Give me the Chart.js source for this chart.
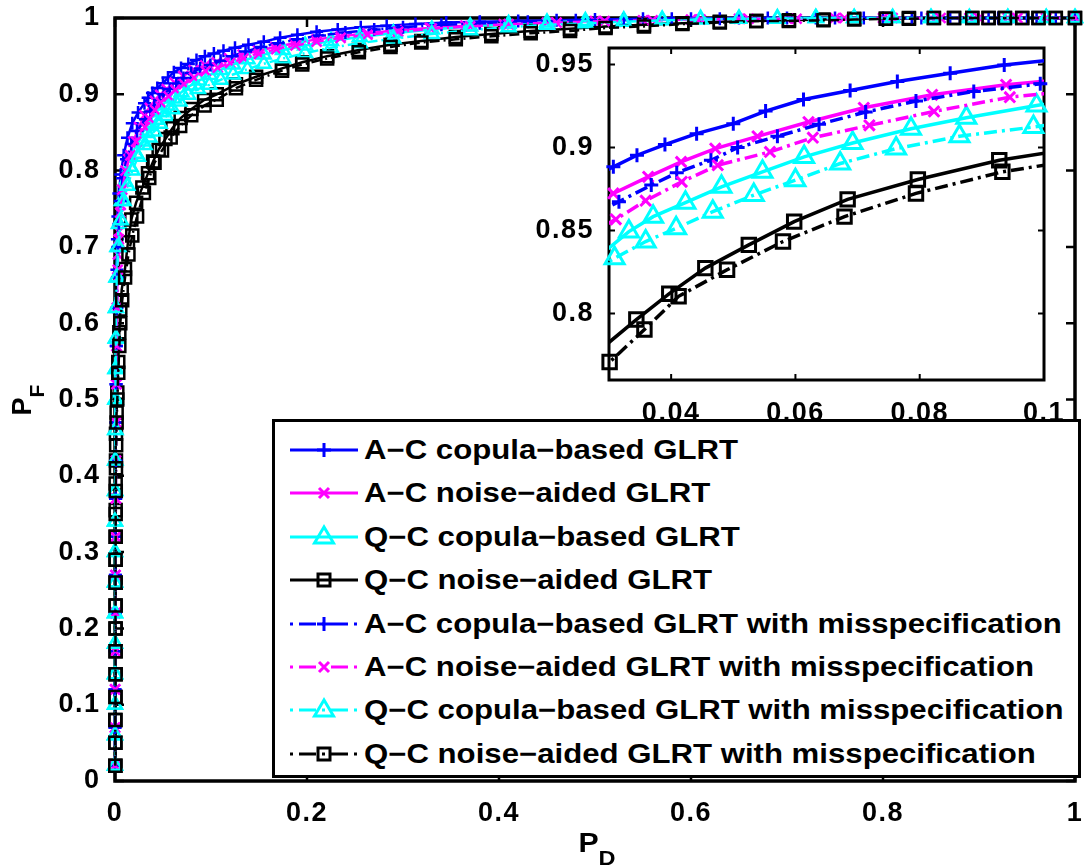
<!DOCTYPE html>
<html>
<head>
<meta charset="utf-8">
<script src="https://cdn.jsdelivr.net/npm/chart.js@4.4.0/dist/chart.umd.min.js"></script>
<style>
html,body{margin:0;padding:0;background:#fff;}
#wrap{position:relative;width:1086px;height:867px;overflow:hidden;background:#fff;font-family:'Liberation Sans',Arial,Helvetica,sans-serif;font-weight:bold;color:#000;}
#main{position:absolute;left:0;top:0;}
#inset{position:absolute;left:520px;top:30px;}
#legend{position:absolute;left:272px;top:419px;width:809px;height:359px;box-sizing:border-box;border:3px solid #000;background:#fff;}
.lrow{position:absolute;left:0;height:40px;white-space:nowrap;}
.lrow svg{position:absolute;left:14px;top:0;}
.lrow span{position:absolute;left:89px;font-size:27px;line-height:40px;top:0;transform:scaleX(1.154);transform-origin:0 50%;}
.title{position:absolute;font-size:27px;line-height:40px;white-space:nowrap;text-align:center;}
.title sub{font-size:21px;vertical-align:-13px;line-height:0;}
</style>
</head>
<body>
<div id="wrap">
  <canvas id="main" width="1086" height="867"></canvas>
  <canvas id="inset" width="560" height="400"></canvas>
  <div id="legend"></div>
  <div class="title" id="xtitle" style="left:557px;top:823px;width:80px;transform:scaleX(1.12);">P<sub>D</sub></div>
  <div class="title" id="ytitle" style="left:-18px;top:380px;width:80px;transform:rotate(-90deg);">P<sub>F</sub></div>
</div>
<script>
// ---------------- data (x = P_D, y = P_F) ----------------
const seriesLabels = [
  'A\u2212C copula\u2212based GLRT',
  'A\u2212C noise\u2212aided GLRT',
  'Q\u2212C copula\u2212based GLRT',
  'Q\u2212C noise\u2212aided GLRT',
  'A\u2212C copula\u2212based GLRT with misspecification',
  'A\u2212C noise\u2212aided GLRT with misspecification',
  'Q\u2212C copula\u2212based GLRT with misspecification',
  'Q\u2212C noise\u2212aided GLRT with misspecification'
];

const acCopula = [[0,0.02],[0,0.07],[0,0.12],[0,0.17],[0.0003,0.22],[0.0003,0.27],[0.0005,0.32],[0.0005,0.37],[0.0008,0.42],[0.001,0.47],[0.001,0.52],[0.0012,0.57],[0.0015,0.62],[0.002,0.67],[0.0025,0.71],[0.003,0.74],[0.004,0.77],[0.006,0.795],[0.009,0.82],[0.013,0.843],[0.018,0.862],[0.024,0.876],[0.0307,0.8884],[0.0345,0.8954],[0.039,0.9018],[0.0441,0.9084],[0.050,0.9144],[0.0552,0.922],[0.0613,0.929],[0.0688,0.9344],[0.0764,0.9398],[0.0849,0.9448],[0.0936,0.9498],[0.103,0.9535],[0.113,0.957],[0.125,0.961],[0.139,0.965],[0.155,0.969],[0.172,0.974],[0.19,0.978],[0.21,0.982],[0.232,0.985],[0.256,0.988],[0.283,0.99],[0.313,0.992],[0.345,0.994],[0.38,0.995],[0.42,0.996],[0.46,0.997],[0.5,0.998],[0.55,0.999],[0.6,0.999],[0.65,1],[0.7,1],[0.75,1],[0.8,1],[0.84,1],[0.88,1],[0.92,1],[0.96,1],[1,1]];

const acNoise = [[0,0.02],[0,0.07],[0,0.12],[0.0003,0.17],[0.0003,0.22],[0.0005,0.27],[0.0005,0.32],[0.0008,0.37],[0.001,0.42],[0.001,0.47],[0.0012,0.52],[0.0015,0.57],[0.002,0.62],[0.0025,0.66],[0.003,0.69],[0.004,0.72],[0.006,0.755],[0.009,0.785],[0.014,0.815],[0.019,0.838],[0.025,0.857],[0.0307,0.8724],[0.0363,0.8824],[0.0416,0.8914],[0.0471,0.8994],[0.0539,0.9068],[0.0621,0.9154],[0.071,0.924],[0.082,0.9318],[0.0939,0.9378],[0.106,0.942],[0.119,0.947],[0.133,0.952],[0.149,0.957],[0.167,0.962],[0.187,0.967],[0.21,0.972],[0.235,0.976],[0.263,0.98],[0.294,0.984],[0.328,0.987],[0.365,0.99],[0.405,0.992],[0.45,0.994],[0.5,0.996],[0.55,0.997],[0.6,0.998],[0.65,0.999],[0.7,0.999],[0.75,1],[0.8,1],[0.85,1],[0.89,1],[0.93,1],[0.97,1],[1,1]];

const qcCopula = [[0,0.02],[0,0.06],[0,0.10],[0,0.14],[0,0.18],[0,0.22],[0,0.26],[0,0.30],[0,0.34],[0,0.38],[0.0003,0.42],[0.0003,0.46],[0.0005,0.50],[0.0005,0.54],[0.0008,0.58],[0.001,0.62],[0.0015,0.66],[0.0025,0.70],[0.004,0.73],[0.007,0.76],[0.011,0.785],[0.016,0.805],[0.022,0.822],[0.0295,0.838],[0.0332,0.8494],[0.0371,0.8584],[0.0423,0.8668],[0.0481,0.8764],[0.0547,0.8854],[0.0614,0.8944],[0.0692,0.9028],[0.0786,0.9114],[0.0875,0.918],[0.0988,0.9254],[0.11,0.932],[0.123,0.939],[0.138,0.946],[0.155,0.952],[0.175,0.958],[0.198,0.964],[0.225,0.97],[0.255,0.975],[0.29,0.98],[0.33,0.985],[0.37,0.989],[0.41,0.992],[0.45,0.994],[0.49,0.996],[0.53,0.997],[0.57,0.998],[0.61,0.999],[0.65,0.999],[0.69,1],[0.73,1],[0.77,1],[0.81,1],[0.85,1],[0.89,1],[0.93,1],[0.97,1],[1,1]];

const qcNoise = [[0.0005,0.02],[0.0005,0.05],[0.0005,0.08],[0.0005,0.11],[0.0007,0.14],[0.0007,0.17],[0.0007,0.20],[0.0007,0.23],[0.0007,0.26],[0.0007,0.29],[0.0007,0.32],[0.0007,0.355],[0.0007,0.39],[0.001,0.42],[0.001,0.455],[0.0017,0.483],[0.0024,0.509],[0.0034,0.549],[0.0045,0.588],[0.0055,0.618],[0.007,0.644],[0.0104,0.671],[0.0135,0.706],[0.017,0.736],[0.022,0.758],[0.0285,0.778],[0.0344,0.7964],[0.0397,0.812],[0.0455,0.8274],[0.0525,0.8414],[0.0598,0.8554],[0.0684,0.8688],[0.0797,0.8808],[0.0928,0.8924],[0.106,0.9],[0.126,0.913],[0.147,0.923],[0.174,0.934],[0.195,0.942],[0.221,0.95],[0.254,0.958],[0.287,0.965],[0.319,0.97],[0.355,0.975],[0.392,0.979],[0.433,0.983],[0.474,0.986],[0.511,0.989],[0.551,0.991],[0.591,0.993],[0.63,0.995],[0.668,0.996],[0.702,0.997],[0.738,0.998],[0.77,0.999],[0.803,0.999],[0.827,1],[0.853,1],[0.874,1],[0.893,1],[0.91,1],[0.927,1],[0.945,1],[0.962,1],[0.98,1],[1,1]];

const acCopulaMis = [[0,0.02],[0,0.07],[0,0.12],[0.0003,0.17],[0.0003,0.22],[0.0005,0.27],[0.0005,0.32],[0.0008,0.37],[0.001,0.42],[0.001,0.47],[0.0012,0.52],[0.0015,0.57],[0.002,0.62],[0.0025,0.66],[0.003,0.70],[0.004,0.73],[0.0055,0.76],[0.008,0.79],[0.012,0.815],[0.017,0.835],[0.023,0.852],[0.0316,0.8674],[0.0368,0.8774],[0.0409,0.8848],[0.0464,0.8924],[0.0507,0.9],[0.0571,0.9068],[0.0638,0.914],[0.0713,0.9214],[0.0794,0.928],[0.0887,0.9338],[0.0994,0.9384],[0.11,0.944],[0.122,0.95],[0.136,0.956],[0.152,0.962],[0.17,0.967],[0.19,0.972],[0.213,0.977],[0.24,0.981],[0.27,0.985],[0.3,0.988],[0.34,0.991],[0.38,0.993],[0.43,0.995],[0.48,0.997],[0.53,0.998],[0.58,0.999],[0.63,0.999],[0.68,1],[0.73,1],[0.78,1],[0.83,1],[0.87,1],[0.91,1],[0.95,1],[0.98,1],[1,1]];

const acNoiseMis = [[0,0.02],[0,0.07],[0.0003,0.12],[0.0003,0.17],[0.0005,0.22],[0.0005,0.27],[0.0008,0.32],[0.001,0.37],[0.001,0.42],[0.0012,0.47],[0.0015,0.52],[0.0018,0.57],[0.0022,0.62],[0.0028,0.67],[0.004,0.71],[0.0055,0.745],[0.0075,0.775],[0.011,0.8],[0.016,0.82],[0.022,0.838],[0.0311,0.8568],[0.0359,0.868],[0.0417,0.8794],[0.0475,0.8894],[0.0559,0.8974],[0.0628,0.906],[0.0719,0.9134],[0.0823,0.9218],[0.0945,0.9304],[0.107,0.935],[0.12,0.941],[0.134,0.947],[0.15,0.953],[0.168,0.959],[0.188,0.964],[0.21,0.969],[0.235,0.974],[0.263,0.978],[0.295,0.982],[0.33,0.986],[0.37,0.989],[0.41,0.992],[0.46,0.994],[0.51,0.996],[0.56,0.997],[0.61,0.998],[0.66,0.999],[0.71,0.999],[0.76,1],[0.81,1],[0.86,1],[0.9,1],[0.94,1],[0.97,1],[1,1]];

const qcCopulaMis = [[0,0.02],[0,0.06],[0,0.10],[0,0.14],[0,0.18],[0,0.22],[0,0.26],[0,0.30],[0,0.34],[0.0003,0.38],[0.0003,0.42],[0.0005,0.46],[0.0005,0.50],[0.0007,0.54],[0.001,0.58],[0.001,0.62],[0.002,0.66],[0.0035,0.70],[0.006,0.735],[0.009,0.76],[0.013,0.78],[0.018,0.80],[0.024,0.818],[0.0309,0.8334],[0.0359,0.8434],[0.0408,0.8514],[0.0467,0.8614],[0.0533,0.8714],[0.06,0.8804],[0.0672,0.8904],[0.0762,0.8994],[0.0864,0.9068],[0.0983,0.9124],[0.11,0.919],[0.123,0.926],[0.138,0.933],[0.155,0.94],[0.175,0.947],[0.198,0.954],[0.225,0.961],[0.255,0.967],[0.29,0.973],[0.33,0.979],[0.37,0.984],[0.41,0.988],[0.45,0.991],[0.49,0.993],[0.53,0.995],[0.57,0.997],[0.61,0.998],[0.65,0.999],[0.69,0.999],[0.73,1],[0.77,1],[0.81,1],[0.85,1],[0.89,1],[0.93,1],[0.97,1],[1,1]];

const qcNoiseMis = [[0.0003,0.02],[0.0003,0.05],[0.0003,0.08],[0.0005,0.11],[0.0005,0.14],[0.0005,0.17],[0.0005,0.20],[0.0005,0.23],[0.0005,0.26],[0.0005,0.29],[0.0007,0.32],[0.0007,0.35],[0.0008,0.38],[0.001,0.41],[0.0012,0.44],[0.0017,0.47],[0.0024,0.5],[0.0034,0.535],[0.0045,0.57],[0.0055,0.60],[0.0075,0.63],[0.0105,0.66],[0.014,0.69],[0.018,0.715],[0.023,0.74],[0.0301,0.7708],[0.0357,0.7904],[0.0412,0.8104],[0.049,0.8264],[0.058,0.8434],[0.0679,0.8584],[0.0794,0.8724],[0.0933,0.8854],[0.106,0.893],[0.126,0.908],[0.147,0.919],[0.174,0.931],[0.195,0.939],[0.221,0.947],[0.254,0.955],[0.287,0.962],[0.319,0.968],[0.355,0.972],[0.392,0.976],[0.433,0.98],[0.474,0.983],[0.511,0.987],[0.551,0.989],[0.591,0.992],[0.63,0.994],[0.668,0.996],[0.702,0.996],[0.738,0.997],[0.77,0.998],[0.803,0.999],[0.827,0.999],[0.853,1],[0.874,1],[0.893,1],[0.91,1],[0.927,1],[0.945,1],[0.962,1],[0.98,1],[1,1]];

const mainXTicks = [0, 0.2, 0.4, 0.6, 0.8, 1];
const mainXTickLabels = ['0', '0.2', '0.4', '0.6', '0.8', '1'];
const mainYTicks = [0, 0.1, 0.2, 0.3, 0.4, 0.5, 0.6, 0.7, 0.8, 0.9, 1];
const mainYTickLabels = ['0', '0.1', '0.2', '0.3', '0.4', '0.5', '0.6', '0.7', '0.8', '0.9', '1'];
const insetXTicks = [0.04, 0.06, 0.08, 0.1];
const insetXTickLabels = ['0.04', '0.06', '0.08', '0.1'];
const insetYTicks = [0.8, 0.85, 0.9, 0.95];
const insetYTickLabels = ['0.8', '0.85', '0.9', '0.95'];
const insetXRange = [0.03, 0.1];
const insetYRange = [0.76, 0.96];

// ---------------- styles ----------------
const seriesData = [acCopula, acNoise, qcCopula, qcNoise, acCopulaMis, acNoiseMis, qcCopulaMis, qcNoiseMis];
const colors = ['#0000ff', '#ff00ff', '#00ffff', '#000000', '#0000ff', '#ff00ff', '#00ffff', '#000000'];
const markers = ['cross', 'crossRot', 'triangle', 'rect', 'cross', 'crossRot', 'triangle', 'rect'];
const dashed = [false, false, false, false, true, true, true, true];
const mainRadius = {cross: 6.5, crossRot: 7, triangle: 8, rect: 8.5};
const insetRadius = {cross: 7, crossRot: 7.5, triangle: 11, rect: 9.5};
const FONT = "'Liberation Sans', Arial, Helvetica, sans-serif";

const toXY = arr => arr.map(p => ({x: p[0], y: p[1]}));

const boxPlugin = {
  id: 'mbox',
  beforeDraw(chart, args, opts) {
    const {ctx, chartArea: a} = chart;
    ctx.letterSpacing = '1.5px';
    if (opts.fill) {
      ctx.save(); ctx.fillStyle = '#fff';
      ctx.fillRect(a.left, a.top, a.right - a.left, a.bottom - a.top);
      ctx.restore();
    }
  },
  beforeDatasetsDraw(chart, args, opts) {
    const {ctx, chartArea: a, scales} = chart;
    const x = scales.x, y = scales.y;
    ctx.save();
    ctx.strokeStyle = '#000';
    ctx.lineWidth = opts.tickWidth;
    ctx.beginPath();
    x.ticks.forEach(t => {
      const px = x.getPixelForValue(t.value);
      ctx.moveTo(px, a.bottom); ctx.lineTo(px, a.bottom - opts.tl);
      ctx.moveTo(px, a.top); ctx.lineTo(px, a.top + opts.tl);
    });
    y.ticks.forEach(t => {
      const py = y.getPixelForValue(t.value);
      ctx.moveTo(a.left, py); ctx.lineTo(a.left + opts.tl, py);
      ctx.moveTo(a.right, py); ctx.lineTo(a.right - opts.tl, py);
    });
    ctx.stroke();
    ctx.lineWidth = opts.lw;
    ctx.strokeRect(a.left, a.top, a.right - a.left, a.bottom - a.top);
    ctx.restore();
  }
};

function axis(min, max, ticks, labels, isX, fitSize, pad) {
  return {
    type: 'linear', min: min, max: max,
    afterBuildTicks: s => { s.ticks = ticks.map(v => ({value: v})); },
    ticks: {
      autoSkip: false, maxRotation: 0, minRotation: 0, color: '#000', padding: pad,
      font: {family: FONT, size: 27, weight: 'bold'},
      callback: (v, i) => labels[i]
    },
    grid: {display: false},
    border: {display: false},
    afterFit: s => {
      if (isX) s.height = fitSize; else s.width = fitSize;
      s.paddingLeft = 0; s.paddingRight = 0; s.paddingTop = 0; s.paddingBottom = 0;
    }
  };
}

// ---------------- main chart ----------------
const mainDatasets = seriesData.map((d, i) => ({
  label: seriesLabels[i],
  data: toXY(d),
  showLine: true,
  borderColor: colors[i],
  borderWidth: 2.5,
  borderDash: dashed[i] ? [10, 4, 2, 4] : [],
  pointStyle: markers[i],
  pointRadius: mainRadius[markers[i]],
  pointBorderWidth: 2.5,
  pointBorderColor: colors[i],
  pointBackgroundColor: 'rgba(0,0,0,0)',
  clip: false,
  tension: 0,
  order: 7 - i
}));

new Chart(document.getElementById('main'), {
  type: 'scatter',
  data: {datasets: mainDatasets},
  options: {
    responsive: false, animation: false, devicePixelRatio: 1,
    layout: {padding: {left: 0, top: 18, right: 6, bottom: 0}},
    plugins: {legend: {display: false}, tooltip: {enabled: false}, mbox: {lw: 3.5, tl: 9, tickWidth: 2.5}},
    scales: {
      x: axis(0, 1, mainXTicks, mainXTickLabels, true, 86, 8),
      y: axis(0, 1, mainYTicks, mainYTickLabels, false, 115, 6.5)
    }
  },
  plugins: [boxPlugin]
});

// ---------------- inset chart ----------------
const inRange = p => p[0] >= insetXRange[0] - 1e-9 && p[0] <= insetXRange[1] + 1e-9;
const insetDatasets = [];
seriesData.forEach((d, i) => {
  insetDatasets.push({
    label: seriesLabels[i] + ' (line)',
    data: toXY(d),
    showLine: true,
    borderColor: colors[i],
    borderWidth: 3.5,
    borderDash: dashed[i] ? [13, 5, 3, 5] : [],
    pointRadius: 0,
    clip: 0,
    tension: 0,
    order: (7 - i) * 2 + 1
  });
  insetDatasets.push({
    label: seriesLabels[i] + ' (markers)',
    data: toXY(d.filter(inRange)),
    showLine: false,
    pointStyle: markers[i],
    pointRadius: insetRadius[markers[i]],
    pointBorderWidth: 3,
    pointBorderColor: colors[i],
    pointBackgroundColor: 'rgba(0,0,0,0)',
    clip: false,
    order: (7 - i) * 2
  });
});

new Chart(document.getElementById('inset'), {
  type: 'scatter',
  data: {datasets: insetDatasets},
  options: {
    responsive: false, animation: false, devicePixelRatio: 1,
    layout: {padding: {left: 0, top: 18, right: 36, bottom: 0}},
    plugins: {legend: {display: false}, tooltip: {enabled: false}, mbox: {lw: 3, tl: 6, tickWidth: 2, fill: true}},
    scales: {
      x: axis(insetXRange[0], insetXRange[1], insetXTicks, insetXTickLabels, true, 50, 9),
      y: axis(insetYRange[0], insetYRange[1], insetYTicks, insetYTickLabels, false, 89, 7)
    }
  },
  plugins: [boxPlugin]
});

// ---------------- legend ----------------
function markerSvg(style, color, cx, cy) {
  const a = `stroke="${color}" stroke-width="3" fill="none"`;
  if (style === 'cross') return `<path d="M${cx-7} ${cy}H${cx+7}M${cx} ${cy-7}V${cy+7}" ${a}/>`;
  if (style === 'crossRot') return `<path d="M${cx-5} ${cy-5}L${cx+5} ${cy+5}M${cx-5} ${cy+5}L${cx+5} ${cy-5}" ${a}/>`;
  if (style === 'triangle') return `<polygon points="${cx},${cy-10} ${cx-9.5},${cy+6} ${cx+9.5},${cy+6}" ${a}/>`;
  return `<rect x="${cx-6}" y="${cy-6}" width="12" height="12" ${a}/>`;
}
const legendEl = document.getElementById('legend');
seriesLabels.forEach((lab, i) => {
  const row = document.createElement('div');
  row.className = 'lrow';
  row.style.top = (8 + i * 43.4) + 'px';
  row.style.width = '800px';
  const dash = dashed[i] ? 'stroke-dasharray="3 6 17 6"' : '';
  row.innerHTML = `<svg width="72" height="40" viewBox="0 0 72 40">
      <line x1="1" y1="20" x2="69" y2="20" stroke="${colors[i]}" stroke-width="3" ${dash}/>
      ${markerSvg(markers[i], colors[i], 35, 20)}
    </svg><span>${lab}</span>`;
  legendEl.appendChild(row);
});
</script>
</body>
</html>
